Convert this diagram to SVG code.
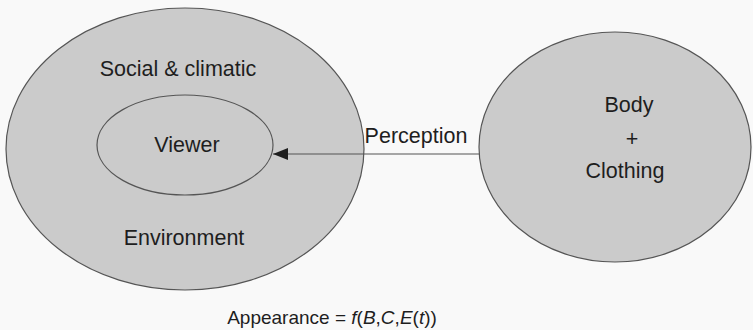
<svg xmlns="http://www.w3.org/2000/svg" width="753" height="330" viewBox="0 0 753 330">
<style>
.bg{fill:#f9f9f9}
.node{fill:#cbcbcb;stroke:#555;stroke-width:1.2}
.t{font-family:"Liberation Sans",Arial,sans-serif;font-size:21.5px;fill:#1e1e1e;text-anchor:middle}
.f{font-size:19px}
.it{font-style:italic}
.conn{stroke:#555;stroke-width:1.2;fill:none}
</style>
<defs>
<marker id="ah" markerWidth="16" markerHeight="12" refX="15" refY="6" orient="auto" markerUnits="userSpaceOnUse">
<path d="M0,0 L15,6 L0,12 Z" fill="#1e1e1e"/>
</marker>
</defs>
<rect class="bg" x="0" y="0" width="753" height="330"/>
<g id="environment">
<ellipse class="node" cx="185" cy="149" rx="179" ry="141"/>
<text class="t" x="178" y="76">Social &amp; climatic</text>
<text class="t" x="184" y="245">Environment</text>
</g>
<g id="viewer">
<ellipse class="node" cx="185" cy="145" rx="88" ry="50"/>
<text class="t" x="187" y="152">Viewer</text>
</g>
<g id="body-clothing">
<ellipse class="node" cx="615" cy="147" rx="136" ry="115"/>
<text class="t" x="629" y="112">Body</text>
<text class="t" x="632" y="146">+</text>
<text class="t" x="625" y="178">Clothing</text>
</g>
<g id="connectors">
<line class="conn" x1="479" y1="154" x2="273" y2="154" marker-end="url(#ah)"/>
<text class="t" x="416" y="143">Perception</text>
</g>
<g id="formula">
<text class="t f" x="332" y="324">Appearance = <tspan class="it">f</tspan>(<tspan class="it">B</tspan>,<tspan class="it">C</tspan>,<tspan class="it">E</tspan>(<tspan class="it">t</tspan>))</text>
</g>
</svg>
